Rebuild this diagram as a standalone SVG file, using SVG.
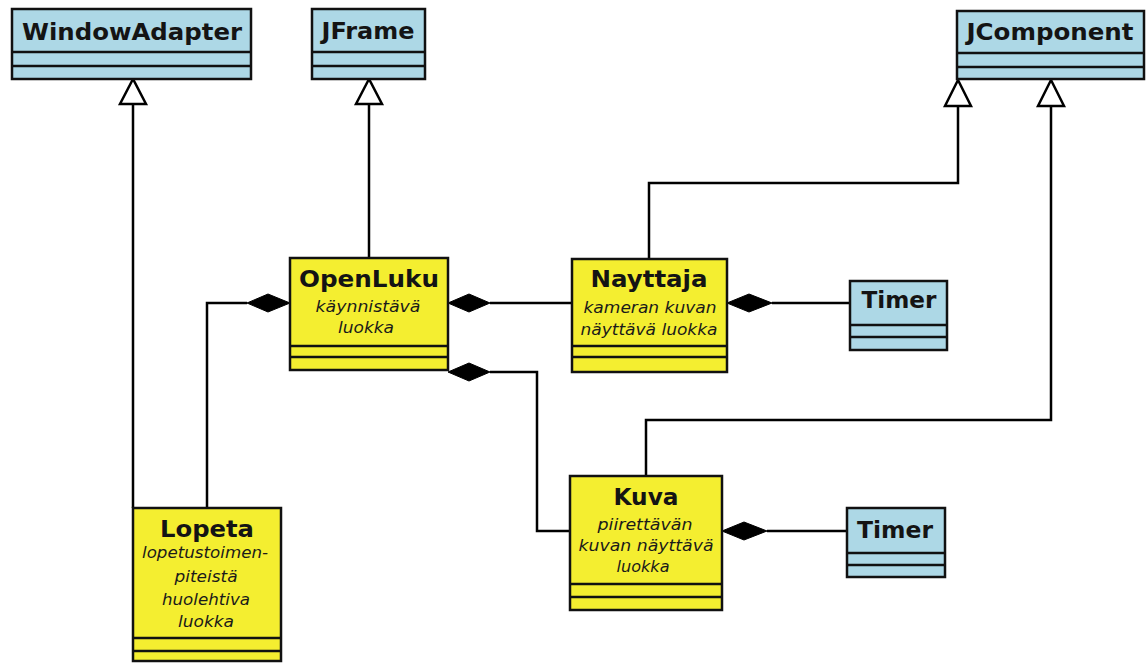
<svg xmlns="http://www.w3.org/2000/svg" width="1148" height="663" viewBox="0 0 1148 663">
<style>
.blue{fill:#add8e6;stroke:#111;stroke-width:2.5}
.yel{fill:#f4ee30;stroke:#111;stroke-width:2.5}
.sep{stroke:#111;stroke-width:2.5}
.name{font-family:"DejaVu Sans",sans-serif;font-weight:bold;font-size:23px;fill:#141414;text-anchor:middle}
.desc{font-family:"DejaVu Sans",sans-serif;font-style:italic;font-size:15.5px;fill:#1a1a1a;text-anchor:middle}
.ln{fill:none;stroke:#000;stroke-width:2.5}
.tri{fill:#fff;stroke:#000;stroke-width:2.5}
.dia{fill:#000;stroke:#000;stroke-width:1}
</style>
<rect width="1148" height="663" fill="#fff"/>
<g id="connectors">
  <path class="ln" d="M133,508 V104"/>
  <polygon class="tri" points="133,79 120,104 146,104"/>
  <path class="ln" d="M369,258 V104"/>
  <polygon class="tri" points="369,79 356,104 382,104"/>
  <path class="ln" d="M649,259 V183 H958 V106"/>
  <polygon class="tri" points="958,80 945,106 971,106"/>
  <path class="ln" d="M646,476 V420 H1051 V106"/>
  <polygon class="tri" points="1051,80 1038,106 1064,106"/>
  <path class="ln" d="M207,508 V303 H247"/>
  <polygon class="dia" points="247,303 268,294 290,303 268,312"/>
  <path class="ln" d="M490,303 H572"/>
  <polygon class="dia" points="448,303 469,294 490,303 469,312"/>
  <path class="ln" d="M490,372 H537 V531 H570"/>
  <polygon class="dia" points="448,372 469,363 490,372 469,381"/>
  <path class="ln" d="M772,303 H850"/>
  <polygon class="dia" points="727,303 749,294 772,303 749,312"/>
  <path class="ln" d="M767,531 H847"/>
  <polygon class="dia" points="722,531 744,522 767,531 744,540"/>
</g>
<g id="WindowAdapter">
  <rect class="blue" x="12" y="9" width="239" height="70"/>
  <line class="sep" x1="12" y1="52" x2="251" y2="52"/>
  <line class="sep" x1="12" y1="66" x2="251" y2="66"/>
  <text class="name" x="132" y="40" textLength="220" lengthAdjust="spacingAndGlyphs">WindowAdapter</text>
</g>
<g id="JFrame">
  <rect class="blue" x="312" y="9" width="113" height="70"/>
  <line class="sep" x1="312" y1="52" x2="425" y2="52"/>
  <line class="sep" x1="312" y1="66" x2="425" y2="66"/>
  <text class="name" x="368" y="39" textLength="93" lengthAdjust="spacingAndGlyphs">JFrame</text>
</g>
<g id="JComponent">
  <rect class="blue" x="957" y="11" width="187" height="68"/>
  <line class="sep" x1="957" y1="53" x2="1144" y2="53"/>
  <line class="sep" x1="957" y1="67" x2="1144" y2="67"/>
  <text class="name" x="1050" y="40" textLength="167" lengthAdjust="spacingAndGlyphs">JComponent</text>
</g>
<g id="OpenLuku">
  <rect class="yel" x="290" y="258" width="158" height="112"/>
  <line class="sep" x1="290" y1="346" x2="448" y2="346"/>
  <line class="sep" x1="290" y1="357" x2="448" y2="357"/>
  <text class="name" x="369" y="287" textLength="140" lengthAdjust="spacingAndGlyphs">OpenLuku</text>
  <text class="desc" x="368" y="312" textLength="105" lengthAdjust="spacingAndGlyphs">käynnistävä</text>
  <text class="desc" x="366" y="333" textLength="56" lengthAdjust="spacingAndGlyphs">luokka</text>
</g>
<g id="Nayttaja">
  <rect class="yel" x="572" y="259" width="155" height="113"/>
  <line class="sep" x1="572" y1="346" x2="727" y2="346"/>
  <line class="sep" x1="572" y1="357" x2="727" y2="357"/>
  <text class="name" x="649" y="287" textLength="117" lengthAdjust="spacingAndGlyphs">Nayttaja</text>
  <text class="desc" x="650" y="313" textLength="133" lengthAdjust="spacingAndGlyphs">kameran kuvan</text>
  <text class="desc" x="649" y="335" textLength="137" lengthAdjust="spacingAndGlyphs">näyttävä luokka</text>
</g>
<g id="Timer1">
  <rect class="blue" x="850" y="281" width="97" height="69"/>
  <line class="sep" x1="850" y1="325" x2="947" y2="325"/>
  <line class="sep" x1="850" y1="337" x2="947" y2="337"/>
  <text class="name" x="899" y="308" textLength="75" lengthAdjust="spacingAndGlyphs">Timer</text>
</g>
<g id="Kuva">
  <rect class="yel" x="570" y="476" width="152" height="134"/>
  <line class="sep" x1="570" y1="584" x2="722" y2="584"/>
  <line class="sep" x1="570" y1="597" x2="722" y2="597"/>
  <text class="name" x="646" y="505" textLength="65" lengthAdjust="spacingAndGlyphs">Kuva</text>
  <text class="desc" x="645" y="530" textLength="95" lengthAdjust="spacingAndGlyphs">piirettävän</text>
  <text class="desc" x="646" y="551" textLength="135" lengthAdjust="spacingAndGlyphs">kuvan näyttävä</text>
  <text class="desc" x="643" y="572" textLength="53" lengthAdjust="spacingAndGlyphs">luokka</text>
</g>
<g id="Timer2">
  <rect class="blue" x="847" y="508" width="98" height="69"/>
  <line class="sep" x1="847" y1="553" x2="945" y2="553"/>
  <line class="sep" x1="847" y1="565" x2="945" y2="565"/>
  <text class="name" x="895" y="538" textLength="76" lengthAdjust="spacingAndGlyphs">Timer</text>
</g>
<g id="Lopeta">
  <rect class="yel" x="133" y="508" width="148" height="153"/>
  <line class="sep" x1="133" y1="638" x2="281" y2="638"/>
  <line class="sep" x1="133" y1="651" x2="281" y2="651"/>
  <text class="name" x="207" y="537" textLength="94" lengthAdjust="spacingAndGlyphs">Lopeta</text>
  <text class="desc" x="205" y="558" textLength="126" lengthAdjust="spacingAndGlyphs">lopetustoimen-</text>
  <text class="desc" x="206" y="582" textLength="63" lengthAdjust="spacingAndGlyphs">piteistä</text>
  <text class="desc" x="206" y="605" textLength="88" lengthAdjust="spacingAndGlyphs">huolehtiva</text>
  <text class="desc" x="206" y="627" textLength="56" lengthAdjust="spacingAndGlyphs">luokka</text>
</g>
</svg>
